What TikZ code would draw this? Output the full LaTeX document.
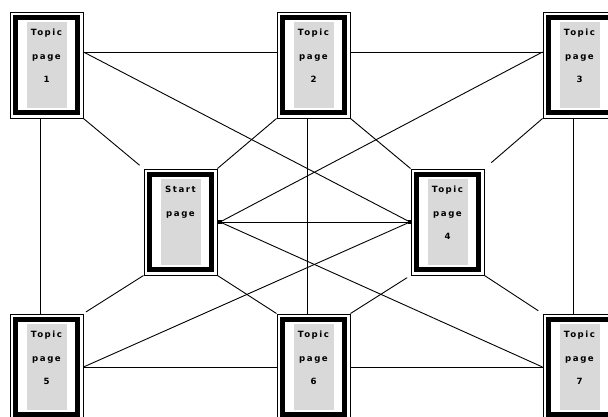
\documentclass[tikz,border=0pt]{standalone}
\usepackage{fontspec}
\newfontfamily\boxfont{DejaVu Sans}[LetterSpace=18]
\tikzset{
  pagebox/.style={
    draw=black, line width=1pt, fill=white,
    minimum width=73pt, minimum height=106pt, inner sep=0pt,
    font=\boxfont\bfseries\fontsize{8.6}{23.3}\selectfont, align=center,
    text depth=18pt,
    path picture={
      \draw[line width=5pt]
        ([xshift=5.5pt,yshift=-5.5pt]path picture bounding box.north west)
        rectangle ([xshift=-5.5pt,yshift=5.5pt]path picture bounding box.south east);
      \fill[gray!30]
        ([xshift=16.5pt,yshift=-10pt]path picture bounding box.north west)
        rectangle ([xshift=-16pt,yshift=10.5pt]path picture bounding box.south east);
    }
  },
  link/.style={draw=black, line width=0.9pt},
  dot/.style={fill=black}
}
\begin{document}
\begin{tikzpicture}[x=1pt,y=-1pt]
\useasboundingbox (0,0) rectangle (608,416);
\clip (0,0) rectangle (608,416);
\fill[white] (0,0) rectangle (608,416);

% nodes
\node[pagebox] (b1) at (46.5,65) {Topic\\page\\1};
\node[pagebox] (b2) at (313.5,65) {Topic\\page\\2};
\node[pagebox] (b3) at (579.5,65) {Topic\\page\\3};
\node[pagebox, text depth=41.3pt] (st) at (180.5,222) {Start\\page};
\node[pagebox] (b4) at (447.5,222) {Topic\\page\\4};
\node[pagebox] (b5) at (46.5,367) {Topic\\page\\5};
\node[pagebox] (b6) at (313.5,367) {Topic\\page\\6};
\node[pagebox] (b7) at (579.5,367) {Topic\\page\\7};

\coordinate (sdot) at (220,222);
\coordinate (fdot) at (410,222);

% rectangular grid
\draw[link] ([yshift=13pt]b1.east) -- ([yshift=13pt]b2.west);
\draw[link] ([yshift=13pt]b2.east) -- ([yshift=13pt]b3.west);
\draw[link] ([xshift=-6.5pt]b1.south) -- ([xshift=-6.5pt]b5.north);
\draw[link] ([xshift=-6.5pt]b2.south) -- ([xshift=-6.5pt]b6.north);
\draw[link] ([xshift=-6.5pt]b3.south) -- ([xshift=-6.5pt]b7.north);
\draw[link] (b5.east) -- (b6.west);
\draw[link] (b6.east) -- (b7.west);

% corner diagonals
\draw[link, shorten >=5pt] (b1.south east) -- (st.north west);
\draw[link] (b2.south west) -- (st.north east);
\draw[link] (b2.south east) -- (b4.north west);
\draw[link, shorten >=9pt] (b3.south west) -- (b4.north east);
\draw[link, shorten <=3pt] (b5.north east) -- (st.south west);
\draw[link] (b6.north west) -- (st.south east);
\draw[link, shorten >=4pt] (b6.north east) -- (b4.south west);
\draw[link, shorten <=5pt] (b7.north west) -- (b4.south east);

% long diagonals
\draw[link] ([yshift=13pt]b1.east) -- (fdot);
\draw[link] ([yshift=13pt]b3.west) -- (sdot);
\draw[link] (sdot) -- (fdot);
\draw[link] (sdot) -- (b7.west);
\draw[link] (b5.east) -- (fdot);

% junction dots
\fill[dot] ([xshift=-2pt,yshift=-2pt]sdot) rectangle ([xshift=2pt,yshift=2pt]sdot);
\fill[dot] ([xshift=-2pt,yshift=-2pt]fdot) rectangle ([xshift=2pt,yshift=2pt]fdot);
\end{tikzpicture}
\end{document}
